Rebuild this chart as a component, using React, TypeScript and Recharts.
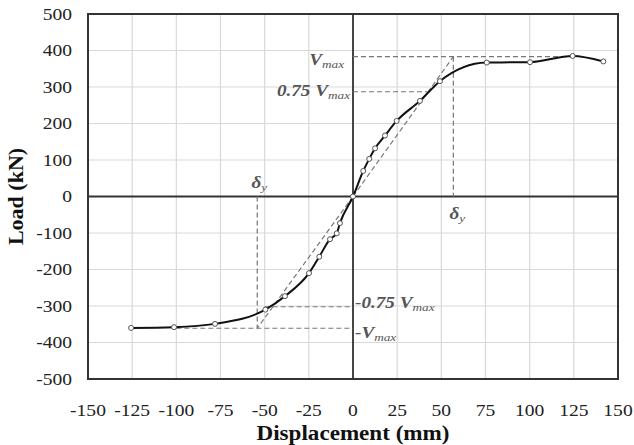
import React from "react";
import {
  ComposedChart,
  Line,
  XAxis,
  YAxis,
  CartesianGrid,
  ReferenceLine,
  ReferenceArea,
  ReferenceDot,
} from "recharts";

// readings
const displacement = [
  -125.6, -101.3, -78.1, -49.6, -38.5, -24.9, -19.1, -13, -9.2, -7.4, 0, 5.8, 9.2, 12.5,
  18.1, 24.7, 37.9, 49.2, 75.7, 100.2, 124.3, 141.7,
];
const load = [
  -360, -358, -349, -310, -273, -210, -165, -117, -101, -73, 0, 70, 103, 132, 167, 207, 262,
  316, 367, 368, 385, 370,
];

const xTicks = [-150, -125, -100, -75, -50, -25, 0, 25, 50, 75, 100, 125, 150];
const yTicks = [-500, -400, -300, -200, -100, 0, 100, 200, 300, 400, 500];

// bilinear idealisation
const vMax = 383;
const v075 = 287;
const deltaY = 56.8;
const vMaxEnd = 124;
const v075End = 42;
const vMaxNeg = -361;
const v075Neg = -302;
const deltaYNeg = -54.2;
const vMaxNegStart = -100;
const v075NegStart = -50;

const data = displacement.map((d, i) => ({ d, load: load[i] }));

const dashed = [
  [{ x: 0, y: vMax }, { x: vMaxEnd, y: vMax }],
  [{ x: 0, y: v075 }, { x: v075End, y: v075 }],
  [{ x: 0, y: 0 }, { x: deltaY, y: vMax }],
  [{ x: deltaY, y: vMax }, { x: deltaY, y: 0 }],
  [{ x: vMaxNegStart, y: vMaxNeg }, { x: 0, y: vMaxNeg }],
  [{ x: v075NegStart, y: v075Neg }, { x: 0, y: v075Neg }],
  [{ x: 0, y: 0 }, { x: deltaYNeg, y: vMaxNeg }],
  [{ x: deltaYNeg, y: 0 }, { x: deltaYNeg, y: vMaxNeg }],
];

const notes = [
  { x: 0, y: vMax, main: "V", sub: "max", anchor: "end", dx: -9, dy: 8 },
  { x: 0, y: v075, main: "0.75 V", sub: "max", anchor: "end", dx: -3, dy: 4 },
  { x: 0, y: v075Neg, main: "-0.75 V", sub: "max", anchor: "start", dx: 2, dy: 1 },
  { x: 0, y: vMaxNeg, main: "-V", sub: "max", anchor: "start", dx: 2, dy: 10 },
  { x: deltaYNeg, y: 0, main: "\u03b4", sub: "y", anchor: "middle", dx: 2, dy: -9 },
  { x: deltaY, y: 0, main: "\u03b4", sub: "y", anchor: "middle", dx: 4, dy: 22 },
];

const FONT = "'Liberation Serif', 'Times New Roman', serif";

const XTick = ({ x, y, payload }: any) => (
  <g transform={`translate(${x},${y}) scale(1.15,1)`}>
    <text textAnchor="middle" dy="0.71em" fontFamily={FONT} fontSize={17} fill="#222">
      {payload.value}
    </text>
  </g>
);

const YTick = ({ x, y, payload }: any) => (
  <g transform={`translate(${x},${y}) scale(1.15,1)`}>
    <text textAnchor="end" dy="0.35em" fontFamily={FONT} fontSize={17} fill="#222">
      {payload.value}
    </text>
  </g>
);

const noteShape = (n: any) => (p: any) => (
  <g transform={`translate(${p.cx + n.dx},${p.cy + n.dy}) scale(1.2,1)`}>
    <text textAnchor={n.anchor} fontFamily={FONT} fontStyle="italic" fontSize={16} fill="#555">
      <tspan fontWeight="bold">{n.main}</tspan>
      <tspan fontSize={11} dy={3}>
        {n.sub}
      </tspan>
    </text>
  </g>
);

export default function App() {
  return (
    <div style={{ position: "absolute", left: 0, top: 0 }}>
      <ComposedChart
        width={634}
        height={445}
        data={data}
        margin={{ top: 14, right: 16, bottom: 0, left: 0 }}
      >
        <CartesianGrid stroke="#d9d9d9" strokeWidth={1.2} />
        <XAxis
          dataKey="d"
          type="number"
          domain={[-150, 150]}
          ticks={xTicks}
          axisLine={false}
          tickLine={false}
          tickSize={6}
          tickMargin={19}
          height={66}
          tick={<XTick />}
          interval={0}
          label={{
            content: (p: any) => {
              const vb = p.viewBox;
              return (
                <g transform={`translate(${vb.x + vb.width / 2},${vb.y + 61}) scale(1.1,1)`}>
                  <text textAnchor="middle" fontFamily={FONT} fontWeight="bold" fontSize={21} fill="#111">
                    Displacement (mm)
                  </text>
                </g>
              );
            },
          }}
        />
        <YAxis
          type="number"
          domain={[-500, 500]}
          ticks={yTicks}
          axisLine={false}
          tickLine={false}
          tickSize={6}
          tickMargin={10}
          width={88}
          tick={<YTick />}
          interval={0}
          label={{
            content: (p: any) => {
              const vb = p.viewBox;
              const cx = vb.x + 23;
              const cy = vb.y + vb.height / 2;
              return (
                <text
                  x={cx}
                  y={cy}
                  transform={`rotate(-90 ${cx} ${cy})`}
                  textAnchor="middle"
                  fontFamily={FONT}
                  fontWeight="bold"
                  fontSize={22}
                  fill="#111"
                >
                  Load (kN)
                </text>
              );
            },
          }}
        />
        <ReferenceArea x1={-150} x2={150} y1={-500} y2={500} fill="none" stroke="#333" strokeWidth={2} />
        <ReferenceLine x={0} stroke="#333" strokeWidth={1.8} />
        <ReferenceLine y={0} stroke="#333" strokeWidth={1.8} />
        {dashed.map((seg, i) => (
          <ReferenceLine
            key={i}
            segment={seg}
            stroke="#777"
            strokeWidth={1.2}
            strokeDasharray="5 3"
          />
        ))}
        <Line
          dataKey="load"
          type="monotone"
          stroke="#111"
          strokeWidth={2}
          dot={{ r: 2.5, stroke: "#555", strokeWidth: 1, fill: "#fff" }}
          isAnimationActive={false}
        />
        {notes.map((n, i) => (
          <ReferenceDot key={i} x={n.x} y={n.y} r={0} shape={noteShape(n)} />
        ))}
      </ComposedChart>
    </div>
  );
}
